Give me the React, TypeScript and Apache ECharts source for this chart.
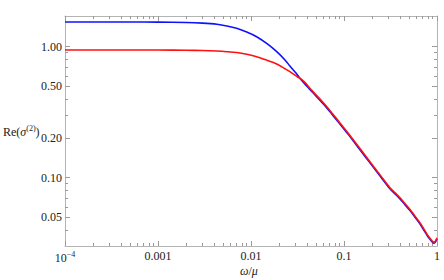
import React, { useEffect, useRef } from "react";
import * as echarts from "echarts";

// ω/μ sample points
const omega = [
  0.0001, 0.0005, 0.001, 0.002, 0.003, 0.0043, 0.0055, 0.007, 0.009, 0.0115,
  0.015, 0.0189, 0.0232, 0.0262, 0.03, 0.0365, 0.045, 0.06, 0.075, 0.09, 0.11,
  0.137, 0.17, 0.207, 0.25, 0.31, 0.35, 0.4, 0.45, 0.51, 0.58, 0.66, 0.73, 0.8,
  0.86, 0.9, 0.93, 0.96, 1.0,
];
// Re(σ^(2)) – blue curve
const blueValues = [
  1.543, 1.542, 1.54, 1.53, 1.513, 1.483, 1.44, 1.382, 1.295, 1.192, 1.05,
  0.916, 0.792, 0.712, 0.637, 0.535, 0.455, 0.366, 0.303, 0.258, 0.216, 0.176,
  0.144, 0.12, 0.1008, 0.0827, 0.0758, 0.0689, 0.0625, 0.0563, 0.0499, 0.0441,
  0.0393, 0.0354, 0.0332, 0.0319, 0.0316, 0.0322, 0.0341,
];
// Re(σ^(2)) – red curve
const redValues = [
  0.944, 0.944, 0.943, 0.94, 0.935, 0.926, 0.916, 0.902, 0.875, 0.839, 0.785,
  0.738, 0.679, 0.645, 0.604, 0.548, 0.464, 0.373, 0.309, 0.263, 0.22, 0.18,
  0.147, 0.1223, 0.1028, 0.0843, 0.0773, 0.0702, 0.0637, 0.0574, 0.0509,
  0.045, 0.0401, 0.0361, 0.0338, 0.0325, 0.0322, 0.0328, 0.0347,
];

const xMajorTicks = [0.0001, 0.001, 0.01, 0.1, 1];
const xMinorTicks = [
  0.0002, 0.0003, 0.0004, 0.0005, 0.0006, 0.0007, 0.0008, 0.0009,
  0.002, 0.003, 0.004, 0.005, 0.006, 0.007, 0.008, 0.009,
  0.02, 0.03, 0.04, 0.05, 0.06, 0.07, 0.08, 0.09,
  0.2, 0.3, 0.4, 0.5, 0.6, 0.7, 0.8, 0.9,
];
const yMajorTicks = [0.05, 0.1, 0.2, 0.5, 1.0];
const yMinorTicks = [0.03, 0.04, 0.06, 0.07, 0.08, 0.09, 0.3, 0.4, 0.6, 0.7, 0.8, 0.9];
const yMin = 0.0301;
const yMax = 1.715;

const FONT = "'Liberation Serif', 'DejaVu Serif', serif";
const FRAME = "#b4b4b4";
const TICK = "#9a9a9a";
const LABEL = "#222";

function xLabel(v: number): string {
  const p = Math.round(Math.log10(v));
  if (p === -4) return "{b|10}{s|\u22124}";
  if (p === 0) return "1";
  return (Math.pow(10, p)).toFixed(-p);
}

export default function App() {
  const ref = useRef<HTMLDivElement>(null);
  useEffect(() => {
    if (!ref.current) return;
    const chart = echarts.init(ref.current, undefined, { renderer: "svg" });

    const xBase = (pos: "bottom" | "top", ticks: number[], len: number, labels: boolean, line: boolean) => ({
      type: "log" as const,
      logBase: 10,
      min: 0.0001,
      max: 1,
      position: pos,
      axisLine: { show: line, lineStyle: { color: FRAME, width: 1 } },
      axisTick: { show: true, inside: true, length: len, customValues: ticks, lineStyle: { color: TICK, width: 1 } },
      axisLabel: labels
        ? {
            show: true,
            customValues: xMajorTicks,
            margin: 4,
            fontFamily: FONT,
            fontSize: 12,
            color: LABEL,
            formatter: xLabel,
            rich: {
              b: { fontFamily: FONT, fontSize: 12, color: LABEL },
              s: { fontFamily: FONT, fontSize: 8, color: LABEL, padding: [0, 0, 7, 0] },
            },
          }
        : { show: false },
      splitLine: { show: false },
      minorTick: { show: false },
    });
    const yBase = (pos: "left" | "right", ticks: number[], len: number, labels: boolean, line: boolean) => ({
      type: "log" as const,
      logBase: 10,
      min: yMin,
      max: yMax,
      position: pos,
      axisLine: { show: line, lineStyle: { color: FRAME, width: 1 } },
      axisTick: { show: true, inside: true, length: len, customValues: ticks, lineStyle: { color: TICK, width: 1 } },
      axisLabel: labels
        ? {
            show: true,
            customValues: yMajorTicks,
            margin: 3,
            fontFamily: FONT,
            fontSize: 12,
            color: LABEL,
            formatter: (v: number) => v.toFixed(2),
          }
        : { show: false },
      splitLine: { show: false },
      minorTick: { show: false },
    });

    chart.setOption({
      animation: false,
      backgroundColor: "#fff",
      grid: { left: 65, top: 16, right: 7, bottom: 34, containLabel: false },
      xAxis: [
        xBase("bottom", xMajorTicks, 5, true, true),
        xBase("bottom", xMinorTicks, 3, false, false),
        xBase("top", xMajorTicks, 5, false, true),
        xBase("top", xMinorTicks, 3, false, false),
      ],
      yAxis: [
        yBase("left", yMajorTicks, 5, true, true),
        yBase("left", yMinorTicks, 3, false, false),
        yBase("right", yMajorTicks, 5, false, true),
        yBase("right", yMinorTicks, 3, false, false),
      ],
      series: [
        {
          type: "line",
          xAxisIndex: 0,
          yAxisIndex: 0,
          data: omega.map((x, i) => [x, blueValues[i]]),
          showSymbol: false,
          smooth: 0.3,
          lineStyle: { color: "#1010ff", width: 1.6 },
          silent: true,
        },
        {
          type: "line",
          xAxisIndex: 0,
          yAxisIndex: 0,
          data: omega.map((x, i) => [x, redValues[i]]),
          showSymbol: false,
          smooth: 0.3,
          lineStyle: { color: "#ff1010", width: 1.6 },
          silent: true,
        },
      ],
      graphic: [
        {
          type: "text",
          left: 3,
          top: 124,
          style: {
            text: "{n|Re(}{i|\u03c3}{s|(2)}{n|)}",
            rich: {
              n: { fontFamily: FONT, fontSize: 12, fill: LABEL },
              i: { fontFamily: FONT, fontSize: 12, fontStyle: "italic", fill: LABEL },
              s: { fontFamily: FONT, fontSize: 8, fill: LABEL, padding: [0, 0, 7, 0] },
            },
          },
        },
        {
          type: "text",
          left: 240,
          top: 265,
          style: {
            text: "{i|\u03c9}{n|/}{i|\u03bc}",
            rich: {
              n: { fontFamily: FONT, fontSize: 12, fill: LABEL },
              i: { fontFamily: FONT, fontSize: 12, fontStyle: "italic", fill: LABEL },
            },
          },
        },
      ],
    });
    return () => chart.dispose();
  }, []);
  return (
    <div
      ref={ref}
      style={{ position: "fixed", left: 0, top: 0, width: 444, height: 280, background: "#fff" }}
    />
  );
}
